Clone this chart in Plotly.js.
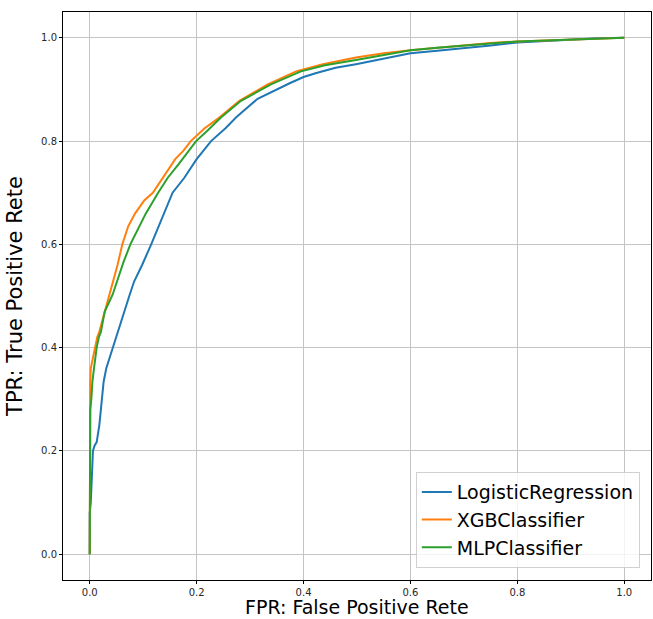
<!DOCTYPE html>
<html>
<head>
<meta charset="utf-8">
<script src="https://cdn.plot.ly/plotly-3.0.1.min.js"></script>
<style>html,body{margin:0;padding:0;background:#fff;}#chart{width:653px;height:619px;}</style>
</head>
<body>
<div id="chart"></div>
<script>
const seriesNames = ["LogisticRegression", "XGBClassifier", "MLPClassifier"];
const seriesColors = ["#1f77b4", "#ff7f0e", "#2ca02c"];
const xTitle = 'FPR: False Positive Rete';
const yTitle = 'TPR: True Positive Rete';

const lrFpr = [0, 0, 0.002, 0.003, 0.005, 0.006, 0.009, 0.013, 0.018, 0.022, 0.026, 0.031, 0.043, 0.052, 0.065, 0.074, 0.083, 0.098, 0.115, 0.135, 0.155, 0.177, 0.2, 0.227, 0.254, 0.274, 0.314, 0.374, 0.4, 0.424, 0.46, 0.498, 0.55, 0.6, 0.65, 0.704, 0.75, 0.8, 0.85, 0.9, 0.95, 1.0];
const lrTpr = [0, 0.08, 0.10, 0.12, 0.16, 0.2, 0.21, 0.217, 0.25, 0.295, 0.334, 0.36, 0.40, 0.431, 0.47, 0.5, 0.528, 0.56, 0.60, 0.65, 0.70, 0.729, 0.765, 0.8, 0.825, 0.846, 0.882, 0.912, 0.924, 0.932, 0.942, 0.949, 0.96, 0.970, 0.975, 0.980, 0.985, 0.991, 0.994, 0.997, 0.999, 1.0];

const xgbFpr = [0, 0, 0.001, 0.002, 0.004, 0.007, 0.010, 0.014, 0.018, 0.023, 0.028, 0.037, 0.044, 0.052, 0.061, 0.072, 0.085, 0.102, 0.118, 0.136, 0.16, 0.175, 0.189, 0.215, 0.243, 0.28, 0.333, 0.386, 0.436, 0.498, 0.55, 0.6, 0.65, 0.704, 0.75, 0.8, 0.85, 0.9, 0.95, 1.0];
const xgbTpr = [0, 0.30, 0.33, 0.36, 0.37, 0.385, 0.40, 0.42, 0.431, 0.45, 0.47, 0.503, 0.528, 0.56, 0.60, 0.635, 0.66, 0.685, 0.70, 0.729, 0.765, 0.781, 0.80, 0.825, 0.846, 0.878, 0.91, 0.935, 0.949, 0.962, 0.97, 0.976, 0.981, 0.986, 0.99, 0.993, 0.995, 0.997, 0.999, 1.0];

const mlpFpr = [0, 0, 0.001, 0.003, 0.005, 0.008, 0.013, 0.017, 0.021, 0.028, 0.035, 0.043, 0.051, 0.063, 0.076, 0.09, 0.105, 0.128, 0.146, 0.166, 0.186, 0.199, 0.22, 0.246, 0.283, 0.339, 0.395, 0.44, 0.498, 0.55, 0.6, 0.65, 0.704, 0.75, 0.8, 0.85, 0.9, 0.95, 1.0];
const mlpTpr = [0, 0.25, 0.28, 0.30, 0.334, 0.36, 0.40, 0.42, 0.431, 0.47, 0.485, 0.503, 0.528, 0.565, 0.60, 0.63, 0.66, 0.70, 0.729, 0.755, 0.781, 0.80, 0.82, 0.846, 0.878, 0.91, 0.935, 0.947, 0.957, 0.967, 0.976, 0.981, 0.986, 0.989, 0.993, 0.995, 0.997, 0.999, 1.0];

const xs = [lrFpr, xgbFpr, mlpFpr];
const ys = [lrTpr, xgbTpr, mlpTpr];

const traces = seriesNames.map((n, i) => ({
  x: xs[i], y: ys[i], name: n, type: 'scatter', mode: 'lines',
  line: {color: seriesColors[i], width: 2}
}));

const font = 'DejaVu Sans, sans-serif';
const axisCommon = {
  range: [-0.05, 1.05], tickvals: [0, 0.2, 0.4, 0.6, 0.8, 1.0], tickformat: '.1f',
  showgrid: true, gridcolor: '#c4c4c4', gridwidth: 1, zeroline: false,
  showline: true, linecolor: '#000', linewidth: 1, mirror: true,
  ticks: 'outside', ticklen: 3, tickcolor: '#000', tickwidth: 1,
  tickfont: {family: font, size: 10, color: '#262626'}
};

const layout = {
  width: 653, height: 619,
  margin: {l: 63, r: 2, t: 12, b: 39},
  paper_bgcolor: '#fff', plot_bgcolor: '#fff',
  font: {family: font},
  xaxis: Object.assign({}, axisCommon),
  yaxis: Object.assign({}, axisCommon, {title: {text: yTitle, font: {family: font, size: 21, color: '#000'}, standoff: 12}}),
  annotations: [{
    text: xTitle, xref: 'paper', yref: 'paper', x: 0.5, y: -0.0687, yshift: 0,
    xanchor: 'center', yanchor: 'bottom', showarrow: false, borderpad: 0,
    font: {family: font, size: 19, color: '#000'}
  }],
  showlegend: true,
  legend: {
    x: 0.981, y: 0.021, xanchor: 'right', yanchor: 'bottom',
    bgcolor: 'rgba(255,255,255,0.8)', bordercolor: '#d0d0d0', borderwidth: 1,
    font: {family: font, size: 19, color: '#000'}, tracegroupgap: 0
  }
};

Plotly.newPlot('chart', traces, layout, {displayModeBar: false, staticPlot: true});
</script>
</body>
</html>
